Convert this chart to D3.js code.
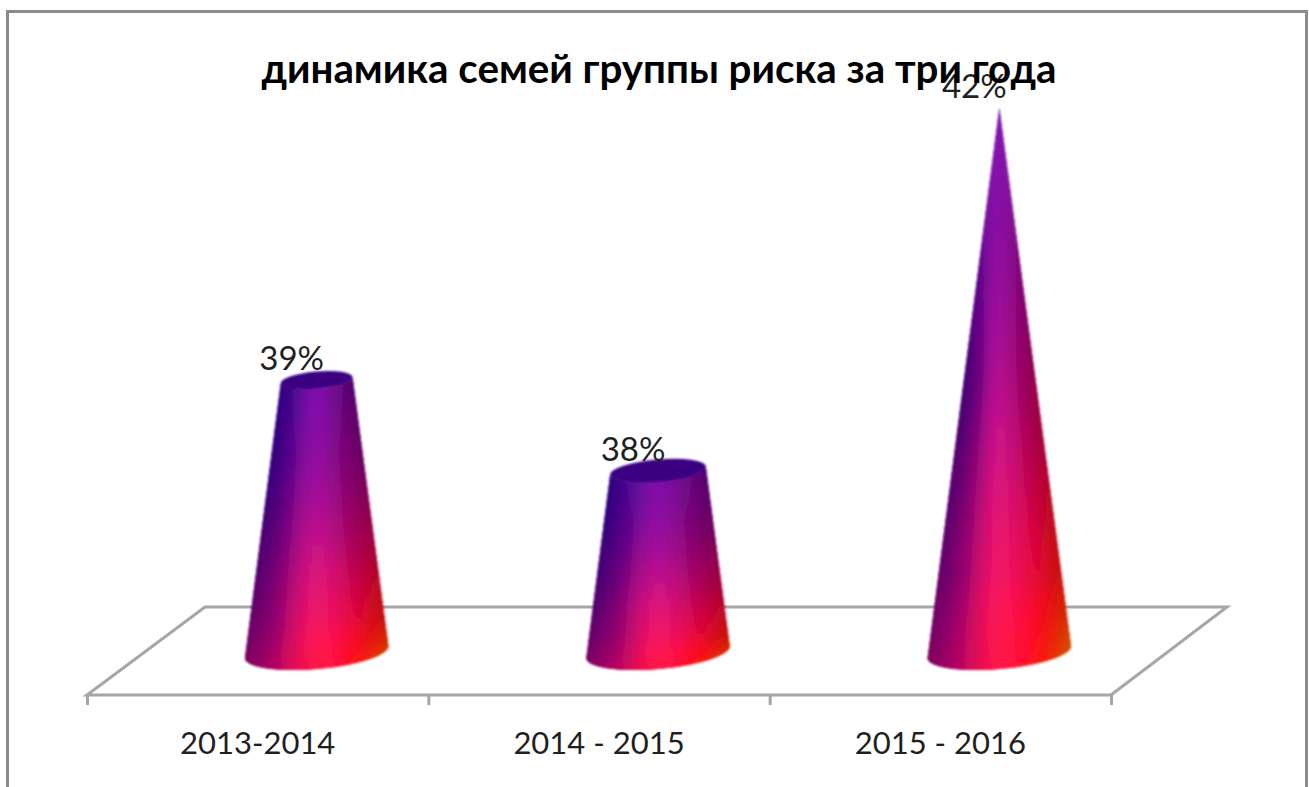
<!DOCTYPE html>
<html>
<head>
<meta charset="utf-8">
<script src="https://cdn.jsdelivr.net/npm/d3@7"></script>
<style>
html, body { margin: 0; padding: 0; background: #fff; }
svg { display: block; }
text { fill: #1f1f1f; }
</style>
</head>
<body>
<svg></svg>
<script>
let titleText = 'динамика семей группы риска за три года'
let categories = ['2013-2014', '2014 - 2015', '2015 - 2016']
let values = [39, 38, 42]
let labels = ['39%', '38%', '42%']

let width = 1309
let height = 787
let font = 'Lato, "Noto Sans", sans-serif'

// floor of the 3d plot
let frontY = 695
let backY = 607
let floorLeft = 87
let floorRight = 1111
let depthX = 118
let baseY = 652
let baseR = 72
let ryRatio = 0.235
let tilt = -5 * Math.PI / 180

let svg = d3.select('svg').attr('width', width).attr('height', height)
let defs = svg.append('defs')

defs.append('filter')
    .attr('id', 'soft')
    .attr('x', '-10%').attr('width', '120%')
    .attr('y', '-5%').attr('height', '110%')
    .append('feGaussianBlur')
    .attr('stdDeviation', 0.8)

let xScale = d3.scaleBand().domain(categories).range([floorLeft, floorRight])
let edgeScale = d3.scaleLinear().domain([0, categories.length]).range([floorLeft, floorRight])
let yScale = d3.scaleLinear().domain([36, 42]).range([baseY, 108])

// cone colours: rows go top to bottom, columns go left edge to right edge
let shadeStops = [0, 0.3, 0.58, 0.84, 0.93, 1]
let shade = [
    ['#2c0080', '#4a0a94', '#8012b0', '#7c12aa', '#680a84', '#500070'],
    ['#34007c', '#560088', '#920ca2', '#8c0c9c', '#7c006e', '#6c0060'],
    ['#4a0070', '#7a0078', '#d0148e', '#c8148a', '#aa0060', '#a80040'],
    ['#680068', '#980070', '#ff1460', '#f5145e', '#f00030', '#d01000'],
    ['#760064', '#a6006c', '#ff1650', '#ff1450', '#ff0410', '#d83800'],
    ['#820060', '#b00068', '#ff1448', '#ff1248', '#ff1000', '#c87000']
]
let rowColour = shade.map(row => d3.interpolateRgbBasis(row))
let rowAt = d3.scaleLinear().domain(shadeStops).range(d3.range(shadeStops.length))

// smooth in both directions so the cone shows no bands
let colourAt = (t, u) => {
    let column = d3.interpolateRgbBasis(rowColour.map(f => f(u)))
    return column(rowAt(t) / (shade.length - 1))
}

let ring = (cx, cy, r, theta) => {
    let ex = r * Math.cos(theta)
    let ey = r * ryRatio * Math.sin(theta)
    return [
        cx + ex * Math.cos(tilt) - ey * Math.sin(tilt),
        cy + ex * Math.sin(tilt) + ey * Math.cos(tilt)
    ]
}

let drawCone = (value, i) => {
    let cx = xScale(categories[i]) + xScale.bandwidth() / 2 + depthX / 2
    let topY = yScale(value)
    let apexY = yScale(42)
    let bottomY = baseY + baseR * ryRatio
    let topR = baseR * (topY - apexY) / (baseY - apexY)
    let g = svg.append('g').attr('class', 'cone').attr('filter', 'url(#soft)')
    let steps = 120
    // painted from the right edge to the left, each strip laps the last one
    d3.range(steps).forEach(s => {
        let a = Math.PI * s / steps
        let b = Math.min(Math.PI, Math.PI * (s + 3) / steps)
        let u = (1 + Math.cos(Math.PI * (s + 0.5) / steps)) / 2
        let id = 'c' + i + 's' + s
        let grad = defs.append('linearGradient')
            .attr('id', id)
            .attr('gradientUnits', 'userSpaceOnUse')
            .attr('x1', 0).attr('x2', 0)
            .attr('y1', topY).attr('y2', bottomY)
        d3.range(25).forEach(k => {
            let t = k / 24
            // the narrow tip only reaches the middle of the colour band
            let y = topY + t * (bottomY - topY)
            let reach = Math.min(1, 2 * (y - apexY) / (baseY - apexY))
            grad.append('stop')
                .attr('offset', t)
                .attr('stop-color', colourAt(t, 0.5 + (u - 0.5) * reach))
        })
        let p = [ring(cx, topY, topR, a), ring(cx, topY, topR, b), ring(cx, baseY, baseR, b), ring(cx, baseY, baseR, a)]
        g.append('polygon')
            .attr('points', p.map(d => d.join(',')).join(' '))
            .attr('fill', 'url(#' + id + ')')
    })
    if (topR > 1) {
        g.append('ellipse')
            .attr('rx', topR)
            .attr('ry', topR * ryRatio)
            .attr('transform', 'translate(' + cx + ',' + topY + ') rotate(-5)')
            .attr('fill', '#3a0682')
    }
}

// outer frame, open at the bottom
svg.append('path')
    .attr('d', 'M7.5,' + height + 'V11.5H1306.5V' + height)
    .attr('fill', 'none')
    .attr('stroke', '#8c8c8c')
    .attr('stroke-width', 3)

// floor
svg.append('polygon')
    .attr('points', [[floorLeft, frontY], [floorRight, frontY], [floorRight + depthX - 2, backY], [floorLeft + depthX, backY]].join(' '))
    .attr('fill', '#fff')
    .attr('stroke', '#a6a6a6')
    .attr('stroke-width', 3)

let tickAxis = d3.axisBottom(edgeScale).tickValues(d3.range(categories.length + 1)).tickFormat('').tickSize(10).tickSizeOuter(0)
svg.append('g')
    .attr('transform', 'translate(0,' + frontY + ')')
    .call(tickAxis)
    .call(g => g.select('.domain').remove())
    .call(g => g.selectAll('line').attr('stroke', '#a6a6a6').attr('stroke-width', 3))

let labelAxis = d3.axisBottom(xScale).tickSize(0).tickPadding(37)
svg.append('g')
    .attr('transform', 'translate(0,' + frontY + ')')
    .call(labelAxis)
    .call(g => g.select('.domain').remove())
    .call(g => g.selectAll('text')
        .attr('font-family', font)
        .attr('font-size', 31)
        .attr('fill', '#1f1f1f'))

values.forEach(drawCone)

svg.selectAll('.value')
    .data(values)
    .enter()
    .append('text')
    .attr('class', 'value')
    .attr('x', (d, i) => xScale(categories[i]) + xScale.bandwidth() / 2 + 34)
    .attr('y', d => yScale(d) - 10)
    .attr('text-anchor', 'middle')
    .attr('font-family', font)
    .attr('font-size', 33)
    .text((d, i) => labels[i])

svg.append('text')
    .attr('x', 659)
    .attr('y', 83)
    .attr('text-anchor', 'middle')
    .attr('font-family', font)
    .attr('font-weight', 'bold')
    .attr('font-size', 40.3)
    .style('fill', '#000')
    .text(titleText)
</script>
</body>
</html>
